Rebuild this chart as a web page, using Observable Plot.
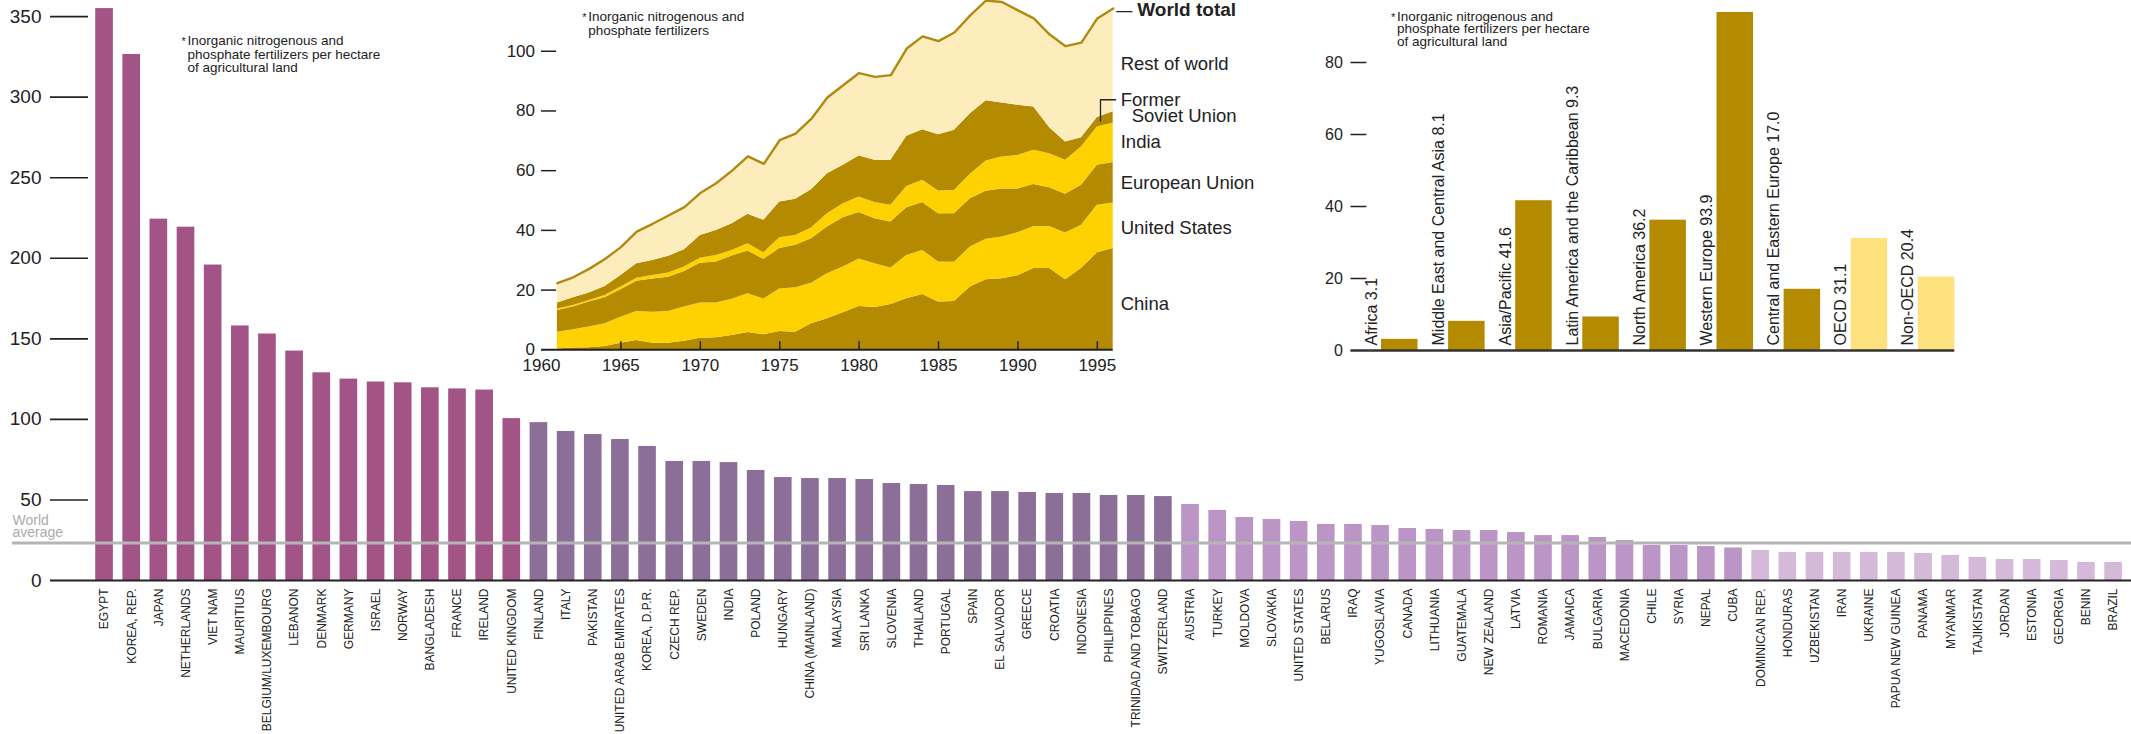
<!DOCTYPE html>
<html><head><meta charset="utf-8">
<script src="https://cdn.jsdelivr.net/npm/d3@7"></script>
<script src="https://cdn.jsdelivr.net/npm/@observablehq/plot@0.6"></script>
<style>
body{margin:0;background:#fff;}
#wrap{position:relative;width:2131px;height:734px;overflow:hidden;background:#fff;}
#wrap svg{position:absolute;left:0;top:0;pointer-events:none;}
</style></head><body><div id="wrap"></div>
<script>
// ---------- Main chart: fertilizer use per hectare by country ----------
const countries = ["EGYPT","KOREA, REP.","JAPAN","NETHERLANDS","VIET NAM","MAURITIUS","BELGIUM/LUXEMBOURG","LEBANON","DENMARK","GERMANY","ISRAEL","NORWAY","BANGLADESH","FRANCE","IRELAND","UNITED KINGDOM","FINLAND","ITALY","PAKISTAN","UNITED ARAB EMIRATES","KOREA, D.P.R.","CZECH REP.","SWEDEN","INDIA","POLAND","HUNGARY","CHINA (MAINLAND)","MALAYSIA","SRI LANKA","SLOVENIA","THAILAND","PORTUGAL","SPAIN","EL SALVADOR","GREECE","CROATIA","INDONESIA","PHILIPPINES","TRINIDAD AND TOBAGO","SWITZERLAND","AUSTRIA","TURKEY","MOLDOVA","SLOVAKIA","UNITED STATES","BELARUS","IRAQ","YUGOSLAVIA","CANADA","LITHUANIA","GUATEMALA","NEW ZEALAND","LATVIA","ROMANIA","JAMAICA","BULGARIA","MACEDONIA","CHILE","SYRIA","NEPAL","CUBA","DOMINICAN REP.","HONDURAS","UZBEKISTAN","IRAN","UKRAINE","PAPUA NEW GUINEA","PANAMA","MYANMAR","TAJIKISTAN","JORDAN","ESTONIA","GEORGIA","BENIN","BRAZIL"];
const values = [355,326.5,224.3,219.3,195.8,158,153,142.4,128.9,125,123.2,122.7,119.6,118.9,118.2,100.5,98,92.5,90.6,87.5,83.2,73.9,73.9,73.2,68.3,63.9,63.3,63.3,62.7,60.2,59.6,59,55.2,55.2,54.6,54,54,52.8,52.8,52.1,47.2,43.5,39.1,37.9,36.6,34.8,34.8,34.1,32.3,31.7,31,31,29.8,27.9,27.9,26.7,24.8,21.7,21.7,21.1,20.2,18.6,17.4,17.4,17.4,17.4,17.4,16.8,15.5,14.3,13,13,12.4,11.2,11.2];
const worldAverage = 23.2;
const mainTicks = [0,50,100,150,200,250,300,350];
const groupBreaks = [20,50,100];
const groupColors = ["#d5b9d9","#bb95c5","#8c6f99","#a35487"];
const noteMain = "Inorganic nitrogenous and\nphosphate fertilizers per hectare\nof agricultural land";

// ---------- Inset 1: world fertilizer consumption (stacked) ----------
const years = [1961,1962,1963,1964,1965,1966,1967,1968,1969,1970,1971,1972,1973,1974,1975,1976,1977,1978,1979,1980,1981,1982,1983,1984,1985,1986,1987,1988,1989,1990,1991,1992,1993,1994,1995,1996];
const seriesNames = ["China","United States","European Union","India","Former Soviet Union","Rest of world"];
const china = [0.3,0.6,0.7,1.1,2.2,3.1,2.2,2.2,2.9,3.9,4.0,4.8,5.8,5.0,6.1,5.9,8.7,10.4,12.4,14.5,14.2,15.2,17.1,18.5,16.0,16.2,21.0,23.5,23.8,24.8,27.2,27.2,23.5,27.2,32.5,33.9];
const unitedStates = [5.6,6.1,6.9,7.6,8.7,9.7,10.4,10.6,11.4,11.8,11.7,12.1,13.0,12.0,14.3,14.9,13.6,15.1,15.3,15.9,14.6,12.2,14.5,14.8,13.4,13.1,13.4,13.5,14.0,14.4,14.1,14.1,15.6,14.5,15.9,15.3];
const europeanUnion = [7.3,7.6,8.4,8.7,9.2,10.2,11.1,11.5,11.9,13.3,13.7,14.5,14.3,13.3,13.5,14.2,14.9,15.6,16.5,15.6,15.1,15.4,16.0,16.0,16.2,16.3,16.2,16.1,16.1,14.7,14.1,13.0,13.0,13.4,13.4,13.5];
const india = [0.5,0.5,0.5,0.8,0.9,1.0,1.2,1.4,1.5,1.7,2.2,1.9,2.4,2.2,3.6,3.3,3.6,4.5,4.7,5.2,5.4,5.6,7.1,7.5,7.6,7.8,8.2,10.1,10.7,11.2,11.4,11.4,11.4,12.8,12.8,13.3];
const formerSovietUnion = [2.0,2.6,2.5,3.0,3.9,4.8,5.0,5.6,5.8,7.6,8.4,8.9,9.9,10.9,12.0,12.1,12.8,13.4,12.9,13.7,14.2,15.1,16.8,16.9,18.8,20.1,20.3,20.2,18.1,16.8,14.5,8.7,6.1,3.1,3.2,3.7];
const restOfWorld = [6.6,6.9,8.1,9.2,9.5,10.8,12.3,13.7,14.3,14.2,15.8,17.8,19.4,18.9,20.7,22.0,23.8,25.5,26.8,27.8,27.9,28.5,29.4,31.3,31.4,32.8,32.9,33.6,33.8,31.8,29.7,31.2,32.1,31.9,33.2,34.6];
const seriesColors = ["#b38a00","#fed200","#b38a00","#fed200","#b38a00","#fdedbd"];
const inset1Ticks = [0,20,40,60,80,100];
const inset1YearTicks = [1960,1965,1970,1975,1980,1985,1990,1995];
const inset1Labels = [
  {text:"Rest of world", y:93.6},
  {text:"Former", y:81.7},
  {text:"India", y:67.5},
  {text:"European Union", y:53.9},
  {text:"United States", y:38.9},
  {text:"China", y:13.4}
];
const inset1Indented = [{text:"Soviet Union", y:76.2}];
const leader = [{x:1995.2,y:76.6},{x:1995.2,y:83.75},{x:1996.15,y:83.75}];
const noteInset1 = "Inorganic nitrogenous and\nphosphate fertilizers";

// ---------- Inset 2: by region ----------
const regionNames = ["Africa","Middle East and Central Asia","Asia/Pacific","Latin America and the Caribbean","North America","Western Europe","Central and Eastern Europe","OECD","Non-OECD"];
const regionValues = [3.1,8.1,41.6,9.3,36.2,93.9,17.0,31.1,20.4];
const regionKind = ["region","region","region","region","region","region","region","oecd","oecd"];
const inset2Ticks = [0,20,40,60,80];
const noteInset2 = "Inorganic nitrogenous and\nphosphate fertilizers per hectare\nof agricultural land";

const FONT = "'Liberation Sans', Arial, Helvetica, sans-serif";
const INK = "#222";
const W = 2131;
const wrap = document.getElementById("wrap");

// ---- main ----
const mainData = countries.map((c,i)=>({country:c, value:values[i]}));
const mainFrameW = W - 50;
const main = Plot.plot({
  width: W, height: 734,
  marginLeft: 50, marginRight: 0, marginTop: 0, marginBottom: 154,
  style: {background:"transparent", fontFamily: FONT, overflow:"visible", color: INK},
  x: {type:"band", domain: countries, paddingInner:0.35, paddingOuter:1.0, align:0.833, round:false, label:null},
  y: {domain:[0,360], label:null},
  color: {type:"threshold", domain: groupBreaks, range: groupColors},
  marks: [
    Plot.barY(mainData, {x:"country", y:"value", fill:"value"}),
    Plot.ruleY([worldAverage], {stroke:"#b5b5b5", strokeWidth:3, insetLeft:-38}),
    Plot.ruleY([0], {stroke:INK, strokeWidth:2}),
    Plot.ruleY(mainTicks.filter(d=>d>0), {stroke:INK, strokeWidth:1.6, insetRight: mainFrameW-38}),
    Plot.axisY({ticks: mainTicks, tickSize:0, tickPadding:9, fontSize:19, line:true, stroke:INK, strokeWidth:2, fill:INK, label:null}),
    Plot.axisX({tickSize:0, tickRotate:-90, tickPadding:8, fontSize:12, fill:INK, label:null}),
    Plot.text(["World\naverage"], {y: ()=>worldAverage, frameAnchor:"left", textAnchor:"start", lineAnchor:"bottom", dx:-38, dy:-5.7, fontSize:14, lineHeight:0.86, fill:"#ababab"}),
    Plot.text(["*"], {frameAnchor:"top-left", textAnchor:"start", lineAnchor:"top", dx:131, dy:37, fontSize:11, fill:INK}),
    Plot.text([noteMain], {frameAnchor:"top-left", textAnchor:"start", lineAnchor:"top", dx:137, dy:35.4, fontSize:13.5, lineHeight:1.0, fill:INK})
  ]
});
wrap.appendChild(main);

// ---- inset 1 ----
const allSeries = [china,unitedStates,europeanUnion,india,formerSovietUnion,restOfWorld];
const long = [];
seriesNames.forEach((s,si)=>{
  years.forEach((y,i)=>long.push({series:s, year:y, value:allSeries[si][i]}));
});
const totals = years.map((y,i)=>({year:y, value:d3.sum(allSeries, a=>a[i])}));
const lastYear = years[years.length-1];
const i1Left = 541, i1Right = 1112.7, i1Bottom = 349.3;
const inset1 = Plot.plot({
  width: W, height: 380,
  marginLeft: i1Left, marginRight: W - i1Right, marginTop: 0, marginBottom: 380 - i1Bottom,
  style: {background:"transparent", fontFamily: FONT, overflow:"visible", color: INK},
  x: {domain:[1960,1996], label:null},
  y: {domain:[0,117], label:null},
  color: {domain: seriesNames, range: seriesColors},
  marks: [
    Plot.areaY(long, {x:"year", y:"value", fill:"series", z:"series"}),
    Plot.lineY(totals, {x:"year", y:"value", stroke:"#b08a10", strokeWidth:2.4}),
    Plot.ruleY([0], {stroke:INK, strokeWidth:2}),
    Plot.ruleY(inset1Ticks.filter(d=>d>0), {stroke:INK, strokeWidth:1.5, insetRight:(i1Right-i1Left)-15}),
    Plot.ruleX(inset1YearTicks.filter(d=>d>1960), {stroke:INK, strokeWidth:1.5, insetTop:i1Bottom-8}),
    Plot.axisY({ticks: inset1Ticks, tickSize:0, tickPadding:6.5, fontSize:17, line:true, stroke:INK, strokeWidth:2, fill:INK, label:null}),
    Plot.axisX({ticks: inset1YearTicks, tickSize:0, tickPadding:9, fontSize:17, tickFormat:d=>String(d), fill:INK, label:null}),
    Plot.line(leader, {x:"x", y:"y", stroke:INK, strokeWidth:1.3}),
    Plot.text(inset1Labels, {x:()=>lastYear, y:"y", text:"text", dx:7.5, textAnchor:"start", lineAnchor:"bottom", fontSize:18.5, fill:INK}),
    Plot.text(inset1Indented, {x:()=>lastYear, y:"y", text:"text", dx:18.5, textAnchor:"start", lineAnchor:"bottom", fontSize:18.5, fill:INK}),
    Plot.text(["—"], {x:()=>lastYear, y:()=>112.0, textAnchor:"start", lineAnchor:"bottom", dx:3, dy:0.5, fontSize:16, fill:INK}),
    Plot.text(["World total"], {x:()=>lastYear, y:()=>111.8, textAnchor:"start", lineAnchor:"bottom", dx:24, fontSize:19, fontWeight:"bold", fill:INK}),
    Plot.text(["*"], {frameAnchor:"top-left", textAnchor:"start", lineAnchor:"top", dx:40.7, dy:13, fontSize:11, fill:INK}),
    Plot.text([noteInset1], {frameAnchor:"top-left", textAnchor:"start", lineAnchor:"top", dx:46.7, dy:11.1, fontSize:13.5, lineHeight:1.0, fill:INK})
  ]
});
wrap.appendChild(inset1);

// ---- inset 2 ----
const regionData = regionNames.map((n,i)=>({name:n, value:regionValues[i], kind:regionKind[i]}));
const i2Left = 1350.4, i2Right = 1954.3, i2Bottom = 350;
const inset2 = Plot.plot({
  width: W, height: 380,
  marginLeft: i2Left, marginRight: W - i2Right, marginTop: 0, marginBottom: 380 - i2Bottom,
  style: {background:"transparent", fontFamily: FONT, overflow:"visible", color: INK},
  x: {type:"band", domain: regionNames, padding:0, round:false, axis:null},
  y: {domain:[0, 350/3.6], label:null},
  marks: [
    Plot.barY(regionData, {x:"name", y:"value", fill: d => d.kind === "oecd" ? "#fde17f" : "#b38a00", insetLeft:30.6}),
    Plot.ruleY([0], {stroke:"#333", strokeWidth:2.5}),
    Plot.ruleY(inset2Ticks.filter(d=>d>0), {stroke:INK, strokeWidth:1.5, insetRight:(i2Right-i2Left)-16}),
    Plot.axisY({ticks: inset2Ticks, tickSize:0, tickPadding:8, fontSize:16, line:true, stroke:INK, strokeWidth:2, fill:INK, label:null}),
    Plot.text(regionData, {x:"name", y:()=>0, text:d=>`${d.name} ${d.value.toFixed(1)}`, rotate:-90, textAnchor:"start", dx:-13, dy:-5, fontSize:16, fill:INK}),
    Plot.text(["*"], {frameAnchor:"top-left", textAnchor:"start", lineAnchor:"top", dx:40, dy:13, fontSize:11, fill:INK}),
    Plot.text([noteInset2], {frameAnchor:"top-left", textAnchor:"start", lineAnchor:"top", dx:46, dy:11.1, fontSize:13.5, lineHeight:0.94, fill:INK})
  ]
});
wrap.appendChild(inset2);
</script></body></html>
